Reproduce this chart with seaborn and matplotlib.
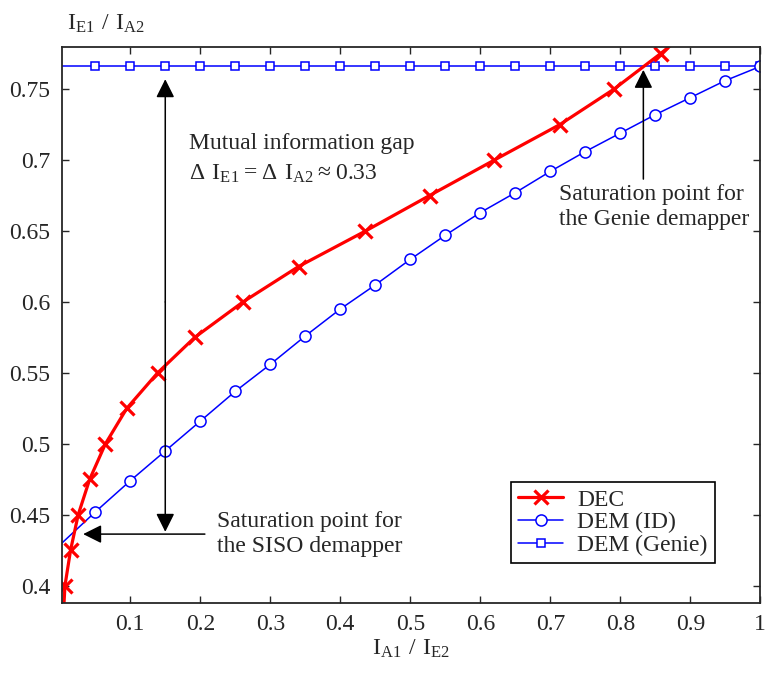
# EXIT chart: DEC vs DEM transfer curves

import numpy as np
import pandas as pd
import matplotlib
matplotlib.use('Agg')
import matplotlib.pyplot as plt
import seaborn as sns

# data
dec_x = [0.004, 0.0067, 0.0147, 0.0256, 0.042, 0.0645, 0.095, 0.139, 0.192, 0.261,
         0.3405, 0.436, 0.5275, 0.62, 0.7136, 0.791, 0.8575, 0.92]
dec_y = [0.375, 0.4, 0.425, 0.45, 0.475, 0.5, 0.525, 0.55, 0.575, 0.6,
         0.625, 0.65, 0.675, 0.7, 0.725, 0.75, 0.775, 0.80]

dem_x = [0.0, 0.05, 0.1, 0.15, 0.2, 0.25, 0.3, 0.35, 0.4, 0.45, 0.5,
         0.55, 0.6, 0.65, 0.7, 0.75, 0.8, 0.85, 0.9, 0.95, 1.0]
dem_y = [0.429, 0.452, 0.474, 0.495, 0.516, 0.537, 0.556, 0.576, 0.595, 0.612, 0.630,
         0.647, 0.663, 0.677, 0.692, 0.706, 0.719, 0.732, 0.744, 0.756, 0.766]

genie_x = dem_x
genie_y = [0.766] * len(genie_x)

x_ticks = [0.1, 0.2, 0.3, 0.4, 0.5, 0.6, 0.7, 0.8, 0.9, 1.0]
x_labels = ['0.1', '0.2', '0.3', '0.4', '0.5', '0.6', '0.7', '0.8', '0.9', '1']
y_ticks = [0.4, 0.45, 0.5, 0.55, 0.6, 0.65, 0.7, 0.75]
y_labels = ['0.4', '0.45', '0.5', '0.55', '0.6', '0.65', '0.7', '0.75']

sns.set_style('ticks')
plt.rcParams['font.family'] = ['Liberation Serif', 'DejaVu Serif']
plt.rcParams['mathtext.fontset'] = 'custom'
plt.rcParams['mathtext.rm'] = 'Liberation Serif'
plt.rcParams['font.size'] = 17

fig = plt.figure(figsize=(7.66, 6.75), dpi=100)
ax = fig.add_axes([0.0805, 0.107, 0.912, 0.824])

blue = '#0000ff'
red = '#ff0000'
sns.lineplot(x=genie_x, y=genie_y, ax=ax, color=blue, lw=1.1, marker='s',
             ms=6, mfc='white', mec=blue, mew=1.1, markevery=list(range(1, len(genie_x))),
             label='DEM (Genie)', sort=False)
sns.lineplot(x=dem_x, y=dem_y, ax=ax, color=blue, lw=1.1, marker='o',
             ms=8, mfc='white', mec=blue, mew=1.1, markevery=list(range(1, len(dem_x))),
             label='DEM (ID)', sort=False)
sns.lineplot(x=dec_x, y=dec_y, ax=ax, color=red, lw=2.3, marker='x',
             ms=9.5, mec=red, mew=2.3, label='DEC', sort=False)

ax.set_xlim(0.002, 1.0)
ax.set_ylim(0.388, 0.78)
ax.set_xticks(x_ticks)
ax.set_xticklabels(x_labels)
ax.set_yticks(y_ticks)
ax.set_yticklabels(y_labels)
ax.tick_params(direction='in', top=True, right=True, length=5, width=1, labelsize=17, pad=8)
for s in ax.spines.values():
    s.set_linewidth(1.3)
    s.set_visible(True)

ax.set_xlabel(r'$\mathregular{I_{A1}\ /\ I_{E2}}$', fontsize=17, labelpad=2)
ax.set_ylabel('')
fig.text(0.088, 0.965, r'$\mathregular{I_{E1}\ /\ I_{A2}}$', fontsize=17, ha='left', va='center')

# arrows
arr = dict(arrowstyle='-|>', color='black', lw=1.1, mutation_scale=28, shrinkA=0, shrinkB=0)
ax.annotate('', xy=(0.15, 0.757), xytext=(0.15, 0.6), arrowprops=arr)
ax.annotate('', xy=(0.15, 0.438), xytext=(0.15, 0.6), arrowprops=arr)
ax.annotate('', xy=(0.0327, 0.4364), xytext=(0.2066, 0.4364), arrowprops=arr)
ax.annotate('', xy=(0.833, 0.7636), xytext=(0.833, 0.6866), arrowprops=arr)

ax.text(0.184, 0.712, 'Mutual information gap', fontsize=17, ha='left', va='center')
ax.text(0.184, 0.690, r'$\mathregular{\Delta\ I_{E1} = \Delta\ I_{A2} \approx 0.33}$',
        fontsize=17, ha='left', va='center')
ax.text(0.2245, 0.4455, 'Saturation point for', fontsize=17, ha='left', va='center')
ax.text(0.2245, 0.4275, 'the SISO demapper', fontsize=17, ha='left', va='center')
ax.text(0.712, 0.676, 'Saturation point for', fontsize=17, ha='left', va='center')
ax.text(0.712, 0.658, 'the Genie demapper', fontsize=17, ha='left', va='center')

h, l = ax.get_legend_handles_labels()
order = [l.index('DEC'), l.index('DEM (ID)'), l.index('DEM (Genie)')]
leg = ax.legend([h[i] for i in order], [l[i] for i in order], loc='lower right',
                bbox_to_anchor=(0.935, 0.0714), fancybox=False, framealpha=1,
                edgecolor='black', fontsize=17, handlelength=1.9, borderpad=0.3,
                labelspacing=0.05, handletextpad=0.6, borderaxespad=0)
leg.get_frame().set_linewidth(1.2)

fig.savefig('out.png', dpi=100)
